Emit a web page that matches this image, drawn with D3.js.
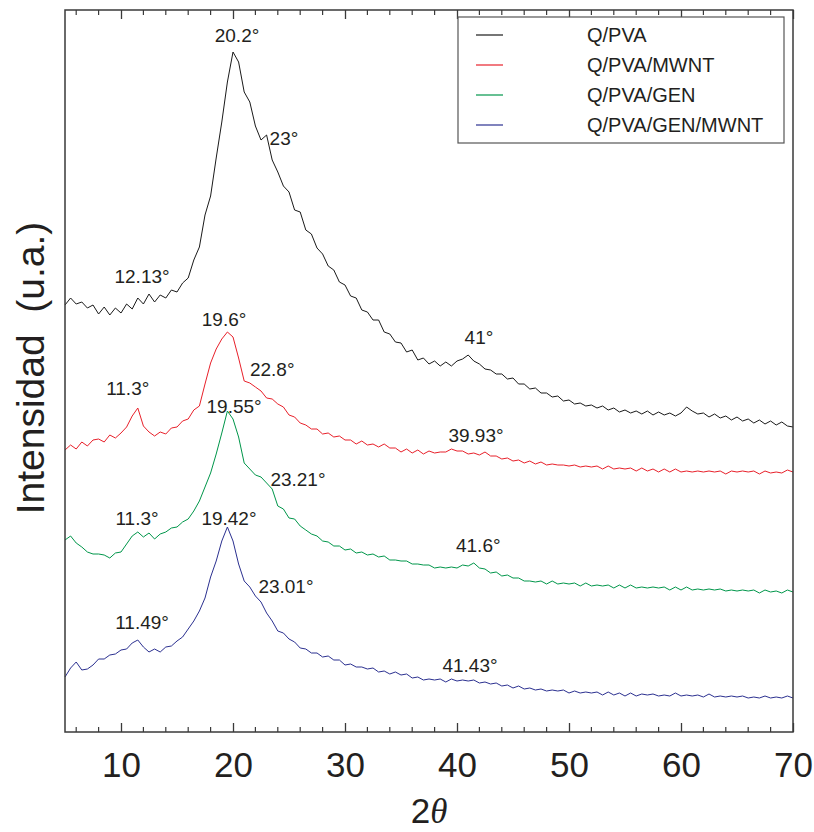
<!DOCTYPE html>
<html>
<head>
<meta charset="utf-8">
<script src="https://cdn.jsdelivr.net/npm/d3@7/dist/d3.min.js"></script>
<style>
  html, body { margin: 0; padding: 0; background: #fff; }
  svg { display: block; }
  text { font-family: "Liberation Sans", Arial, Helvetica, sans-serif; fill: #231f20; }
</style>
</head>
<body>
<svg id="chart" width="814" height="832"></svg>
<script>
// 2θ sampling grid (degrees)
const twoTheta = d3.range(5, 70.001, 0.5);

// Intensities (a.u., stacked/offset as in the figure), one value per 0.5° from 5° to 70°
const qPVA = [
  427,434,428,430,424,427,418,425,417,424,
  419,428,423,434,428,438,430,437,434,442,
  440,449,454,472,485,517,536,574,610,650,
  680,670,640,630,606,592,597,572,560,546,
  540,522,520,502,498,484,478,466,462,450,
  447,436,434,422,420,412,412,400,398,390,
  389,380,382,372,374,368,371,366,370,366,
  371,373,377,371,368,363,362,358,358,353,
  354,348,348,343,344,339,339,335,336,331,
  332,328,329,326,327,324,326,322,324,320,
  322,319,321,318,321,317,320,317,319,316,
  319,325,321,318,319,315,318,314,316,312,
  315,311,313,309,312,308,311,307,310,306,
  305
];
const qPVA_MWNT = [
  282,287,283,290,286,292,293,290,297,294,
  299,305,316,324,306,300,296,300,298,304,
  305,311,313,322,326,348,369,383,393,400,
  395,374,351,349,345,341,334,333,328,325,
  317,315,309,307,303,303,298,299,295,296,
  292,292,288,291,287,288,285,288,284,284,
  280,283,279,282,278,281,279,280,280,283,
  281,281,278,279,277,280,276,276,273,274,
  271,272,269,271,268,270,267,268,267,267,
  266,267,265,266,265,266,263,266,263,264,
  263,264,261,264,261,263,260,263,260,263,
  260,261,260,261,260,261,260,261,258,261,
  260,261,260,261,258,261,259,260,259,262,
  260
];
const qPVA_GEN = [
  192,196,189,185,180,178,178,177,174,179,
  180,188,196,200,195,199,193,198,200,204,
  205,210,213,221,231,245,259,278,299,321,
  313,295,269,263,257,255,249,243,226,223,
  214,213,206,202,198,196,191,190,186,186,
  182,183,179,180,177,178,175,176,172,172,
  171,171,168,168,167,167,164,165,164,165,
  164,167,166,169,164,163,159,160,156,157,
  154,154,151,151,150,151,148,151,148,149,
  148,149,146,149,146,147,146,147,144,147,
  144,147,144,145,144,145,144,145,142,145,
  142,145,142,143,142,143,142,143,141,142,
  141,142,141,142,139,142,140,141,139,142,
  140
];
const qPVA_GEN_MWNT = [
  55,64,70,62,63,67,73,73,77,78,
  82,83,89,92,85,80,83,80,85,86,
  91,95,103,111,121,134,155,171,191,205,
  191,168,151,145,136,130,119,111,101,99,
  93,90,84,83,79,79,75,76,72,72,
  67,68,65,65,63,64,60,61,58,60,
  57,58,54,55,52,53,52,53,50,53,
  51,52,51,52,49,50,48,49,46,47,
  44,46,43,44,42,43,41,42,41,42,
  39,41,39,40,39,40,37,40,37,39,
  36,39,36,38,37,38,36,37,36,39,
  36,37,36,37,35,38,35,36,35,36,
  35,36,34,35,34,36,34,35,34,36,
  34
];

const seriesNames = ["Q/PVA", "Q/PVA/MWNT", "Q/PVA/GEN", "Q/PVA/GEN/MWNT"];
const seriesColors = ["#1a1a1a", "#e8202a", "#00964a", "#2b3090"];
const seriesValues = [qPVA, qPVA_MWNT, qPVA_GEN, qPVA_GEN_MWNT];

const xTicks = [10, 20, 30, 40, 50, 60, 70];
const xMinorTicks = [6, 8, 12, 14, 16, 18, 22, 24, 26, 28, 32, 34, 36, 38, 42, 44, 46, 48, 52, 54, 56, 58, 62, 64, 66, 68];

// Peak annotations: label, 2θ position of label centre, intensity level of label baseline
const peakLabels = ["20.2°", "23°", "12.13°", "41°",
                    "19.6°", "11.3°", "22.8°", "39.93°",
                    "19.55°", "23.21°", "11.3°", "41.6°",
                    "19.42°", "23.01°", "11.49°", "41.43°"];
const peakAngles = [20.36, 24.55, 11.88, 41.96,
                    19.2, 10.6, 23.5, 41.7,
                    20.1, 25.8, 11.43, 41.9,
                    19.64, 24.73, 11.88, 41.16];
const peakLevels = [690, 587, 449, 388,
                    406, 337, 356, 290,
                    319, 246, 207, 180,
                    207, 139, 103, 60];

(function draw() {
const svg = d3.select("#chart");
const margin = {left: 65, right: 21, top: 10, bottom: 100};
const W = 814, H = 832;

const x = d3.scaleLinear().domain([5, 70]).range([margin.left, W - margin.right]);
const y = d3.scaleLinear().domain([0, 722]).range([H - margin.bottom, margin.top]);

const axisColor = "#3a3a3a";

// series lines
const line = d3.line().x((d, i) => x(twoTheta[i])).y(d => y(d));
seriesValues.forEach((vals, k) => {
  svg.append("path")
    .datum(vals)
    .attr("d", line)
    .attr("fill", "none")
    .attr("stroke", seriesColors[k])
    .attr("stroke-width", 1)
    .attr("stroke-linejoin", "round");
});

// frame
const x0 = x(5), x1 = x(70), yb = y(0), yt = y(722);
svg.append("rect")
  .attr("x", x0).attr("y", yt)
  .attr("width", x1 - x0).attr("height", yb - yt)
  .attr("fill", "none").attr("stroke", axisColor).attr("stroke-width", 1.5);

// bottom axis (inward ticks)
const gBottom = svg.append("g").attr("transform", `translate(0,${yb})`);
gBottom.call(d3.axisBottom(x).tickValues(xTicks).tickSize(-9).tickPadding(20).tickFormat(d3.format("d")));
gBottom.select(".domain").remove();
gBottom.selectAll("line").attr("stroke", axisColor).attr("stroke-width", 1.3);
gBottom.selectAll("text").attr("font-size", 35).attr("fill", "#231f20")
  .attr("font-family", "Liberation Sans, Arial, sans-serif");
gBottom.selectAll(".minor").data(xMinorTicks).enter().append("line")
  .attr("class", "minor")
  .attr("x1", d => x(d)).attr("x2", d => x(d))
  .attr("y1", 0).attr("y2", -5)
  .attr("stroke", axisColor).attr("stroke-width", 1.2);

// top axis (inward ticks)
const gTop = svg.append("g").attr("transform", `translate(0,${yt})`);
gTop.call(d3.axisTop(x).tickValues(xTicks).tickSize(-9).tickFormat(""));
gTop.select(".domain").remove();
gTop.selectAll("line").attr("stroke", axisColor).attr("stroke-width", 1.3);
gTop.selectAll(".minor").data(xMinorTicks).enter().append("line")
  .attr("class", "minor")
  .attr("x1", d => x(d)).attr("x2", d => x(d))
  .attr("y1", 0).attr("y2", 5)
  .attr("stroke", axisColor).attr("stroke-width", 1.2);

// x title
const xt = svg.append("text")
  .attr("x", (x0 + x1) / 2).attr("y", 823)
  .attr("text-anchor", "middle").attr("font-size", 35);
xt.append("tspan").text("2");
xt.append("tspan").attr("font-family", "Liberation Serif, DejaVu Serif, serif").attr("font-style", "italic").text("θ");

// y title
svg.append("text")
  .attr("transform", `translate(44,${(yt + yb) / 2 - 3}) rotate(-90)`)
  .attr("text-anchor", "middle").attr("font-size", 39)
  .style("white-space", "pre")
  .text("Intensidad  (u.a.)");

// peak labels
svg.append("g").selectAll("text").data(peakLabels).enter().append("text")
  .attr("x", (d, i) => x(peakAngles[i]))
  .attr("y", (d, i) => y(peakLevels[i]))
  .attr("text-anchor", "middle")
  .attr("font-size", 19)
  .text(d => d);

// legend
const lg = svg.append("g");
lg.append("rect")
  .attr("x", 458).attr("y", 17).attr("width", 326).attr("height", 126)
  .attr("fill", "#fff").attr("stroke", "#555").attr("stroke-width", 1.2);
seriesNames.forEach((name, k) => {
  const cy = 35 + k * 30;
  lg.append("line").attr("x1", 476).attr("x2", 503).attr("y1", cy).attr("y2", cy)
    .attr("stroke", seriesColors[k]).attr("stroke-width", 1.2);
  lg.append("text").attr("x", 587).attr("y", cy + 7).attr("font-size", 20).text(name);
});
})();
</script>
</body>
</html>
